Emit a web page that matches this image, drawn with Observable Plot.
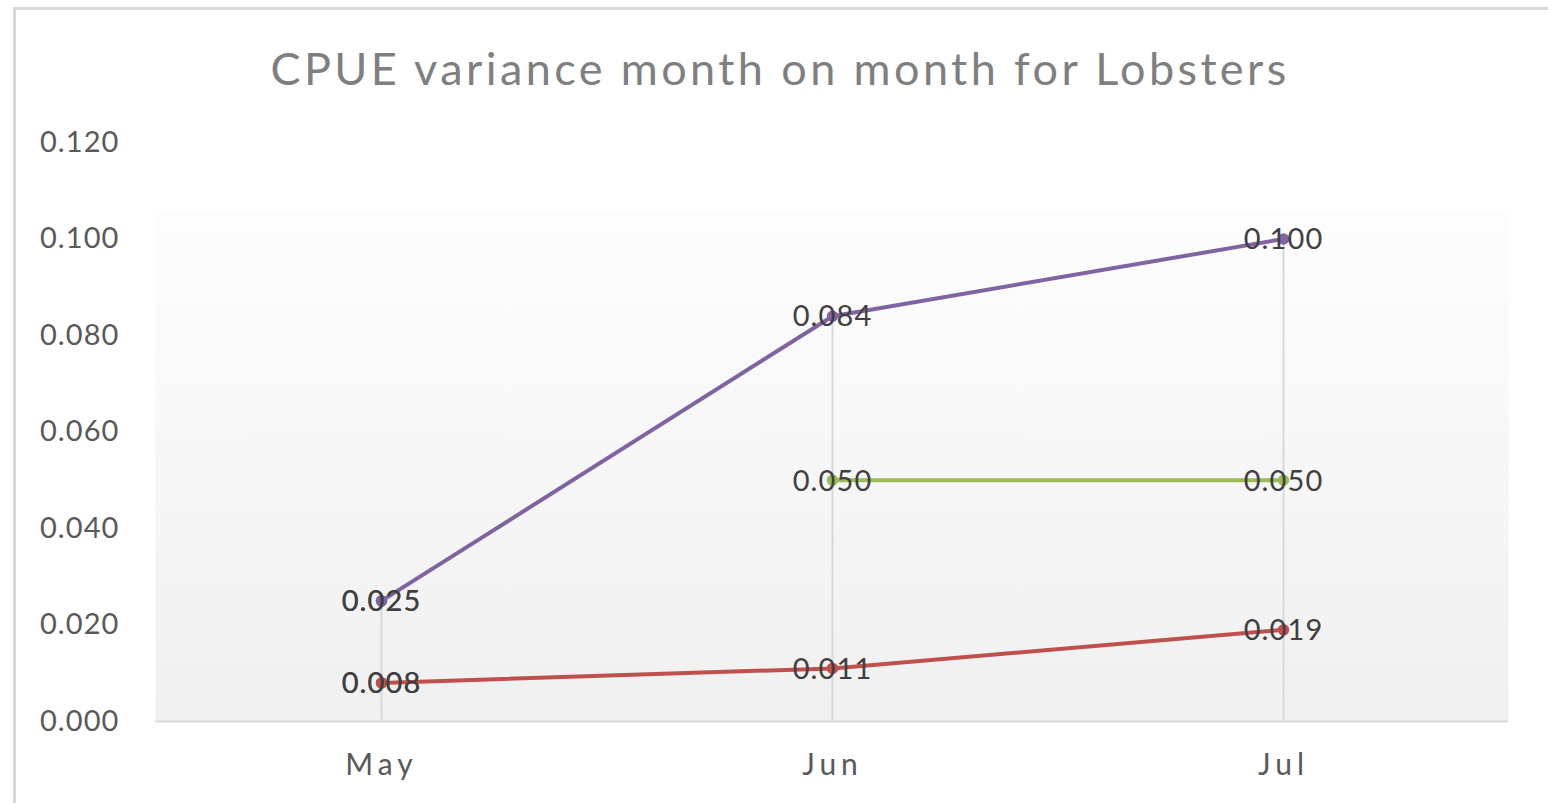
<!DOCTYPE html>
<html><head><meta charset="utf-8">
<script src="https://cdn.jsdelivr.net/npm/d3@7"></script>
<script src="https://cdn.jsdelivr.net/npm/@observablehq/plot@0.6"></script>
<style>
html,body{margin:0;padding:0;background:#fff;width:1548px;height:803px;overflow:hidden;}
#frame{position:absolute;left:13px;top:7px;width:1560px;height:810px;border:3px solid #d9d9d9;box-sizing:border-box;}
#title{position:absolute;left:0;top:0;width:1560px;height:120px;text-align:center;font-family:Lato,"Open Sans",sans-serif;font-size:45px;color:#7f7f7f;line-height:136px;letter-spacing:3.4px;}
#chart{position:absolute;left:0;top:120px;}
#chart text{letter-spacing:1.1px;}
#chart g[aria-label="x-axis tick label"] text{letter-spacing:5px;}
</style></head>
<body>
<div id="frame"></div>
<div id="title">CPUE variance month on month for Lobsters</div>
<div id="chart"></div>
<script>
const months = ["May", "Jun", "Jul"];
const purpleSeries = [0.025, 0.084, 0.100];
const greenSeries = [null, 0.050, 0.050];
const redSeries = [0.008, 0.011, 0.019];
const blueSeries = [0.025, null, null];
const orangeSeries = [0.008, null, null];
const yTicks = [0, 0.02, 0.04, 0.06, 0.08, 0.10, 0.12];

const seriesList = [
  {name: "orange", color: "#F79646", values: orangeSeries},
  {name: "blue", color: "#4BACC6", values: blueSeries},
  {name: "green", color: "#9BBB59", values: greenSeries},
  {name: "red", color: "#C0504D", values: redSeries},
  {name: "purple", color: "#8064A2", values: purpleSeries}
];
const rows = [];
for (const s of seriesList) months.forEach((m, i) => rows.push({series: s.name, color: s.color, month: m, value: s.values[i]}));
const pts = rows.filter(d => d.value != null);
const drops = months.map((m, i) => ({month: m, top: d3.max(seriesList, s => s.values[i])}));

const font = "Lato, 'Open Sans', sans-serif";
const chart = Plot.plot({
  width: 1548, height: 683,
  marginLeft: 155, marginRight: 40, marginTop: 22, marginBottom: 82,
  style: {fontFamily: font, background: "transparent"},
  x: {type: "point", domain: months, padding: 0.5, label: null},
  y: {domain: [0, 0.12], ticks: yTicks, label: null},
  marks: [
    Plot.frame({fill: "url(#bgGrad)", stroke: "none"}),
    Plot.ruleX(drops, {x: "month", y1: 0, y2: "top", stroke: "#d9d9d9", strokeWidth: 2}),
    Plot.ruleY([0], {stroke: "#d9d9d9", strokeWidth: 2}),
    Plot.axisY({ticks: yTicks, tickFormat: d3.format(".3f"), tickSize: 0, tickPadding: 36, fontSize: 29, color: "#595959", textAnchor: "end"}),
    Plot.axisX({tickSize: 0, tickPadding: 32, fontSize: 30, color: "#595959"}),
    ...seriesList.map(s => Plot.line(rows.filter(d => d.series === s.name), {x: "month", y: "value", stroke: s.color, strokeWidth: 4, curve: "linear"})),
    Plot.dot(pts, {x: "month", y: "value", fill: "color", r: 5, stroke: "color"}),
    Plot.text(pts, {x: "month", y: "value", text: d => d3.format(".3f")(d.value), fontSize: 29, fill: "#404040", dy: 1})
  ]
});
const ns = "http://www.w3.org/2000/svg";
const defs = document.createElementNS(ns, "defs");
defs.innerHTML = '<linearGradient id="bgGrad" x1="0" y1="0" x2="0" y2="1"><stop offset="0" stop-color="#ffffff"/><stop offset="0.12" stop-color="#ffffff"/><stop offset="0.121" stop-color="#fdfdfd"/><stop offset="1" stop-color="#f0f0f0"/></linearGradient>';
chart.insertBefore(defs, chart.firstChild);
document.getElementById("chart").appendChild(chart);
</script>
</body></html>
